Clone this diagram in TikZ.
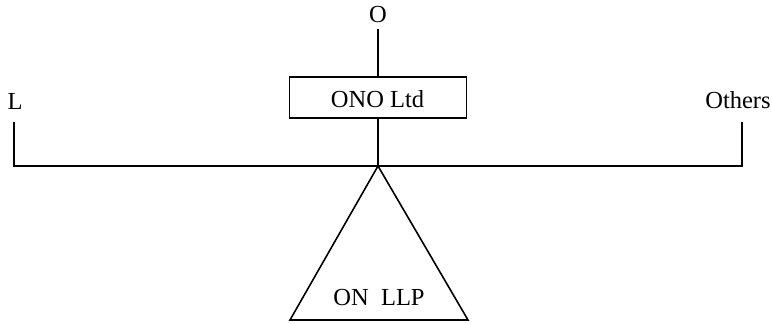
\documentclass[tikz,border=0pt]{standalone}
\usepackage{fontspec}
\setmainfont{Liberation Serif}
\begin{document}
\begin{tikzpicture}[x=1pt,y=-1pt,
  lbl/.style={inner sep=0pt,anchor=base,font=\fontsize{24.5}{29}\selectfont},
  ln/.style={line width=1.6pt},
  boxn/.style={draw,line width=1.6pt,minimum width=177pt,minimum height=41pt,inner sep=0pt,font=\fontsize{24.5}{29}\selectfont}]
\useasboundingbox (0,0) rectangle (772,324);
% labels
\node[lbl] (o) at (378,22) {O};
\node[lbl] (l) at (15,109) {L};
\node[lbl] (oth) at (738,108) {Others};
\node[boxn] (ono) at (378,97.5) {};
\node[lbl] (onot) at (377.5,107) {ONO Ltd};
% coordinates
\coordinate (otop) at (378,29);
\coordinate (apex) at (378,166);
\coordinate (ltop) at (14,122);
\coordinate (lbot) at (14,166);
\coordinate (rtop) at (742,122);
\coordinate (rbot) at (742,166);
\coordinate (bl) at (290,320);
\coordinate (br) at (468,320);
% connectors
\draw[ln] (otop) -- (ono.north);
\draw[ln] (ono.south) -- (apex);
\draw[ln] (ltop) -- (lbot) -- (rbot) -- (rtop);
% triangle
\draw[ln,line join=miter] (apex) -- (br) -- (bl) -- cycle;
\node[lbl] (onllp) at (379,305) {ON\ \ LLP};
\end{tikzpicture}
\end{document}
